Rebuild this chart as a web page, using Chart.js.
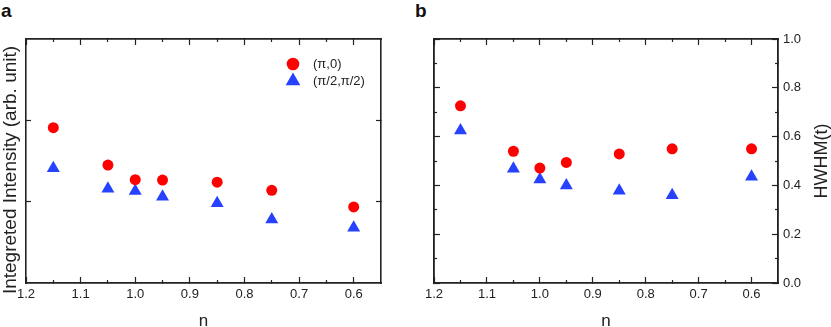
<!DOCTYPE html>
<html>
<head>
<meta charset="utf-8">
<script src="https://cdn.jsdelivr.net/npm/chart.js@4.4.0/dist/chart.umd.min.js"></script>
<style>
  body { margin: 0; background: #fff; width: 831px; height: 327px; position: relative; overflow: hidden;
         font-family: "Liberation Sans", Arial, sans-serif; }
  .panel { position: absolute; top: 0; height: 327px; }
  .tag { position: absolute; top: 1px; font-weight: bold; font-size: 19px; line-height: 1; color: #111; }
</style>
</head>
<body>
<div class="tag" style="left:1px">a</div>
<div class="tag" style="left:415px">b</div>
<div class="panel" style="left:0;width:415px"><canvas id="chartA"></canvas></div>
<div class="panel" style="left:415px;width:416px"><canvas id="chartB"></canvas></div>
<script>
// doping n for every point
const nValues = [1.15, 1.05, 1.0, 0.95, 0.85, 0.75, 0.6];
// panel a: integrated intensity (arb. unit)
const intensityPi0 = [1.91, 1.45, 1.27, 1.265, 1.24, 1.14, 0.935];
const intensityPi2 = [1.41, 1.16, 1.13, 1.06, 0.98, 0.78, 0.68];
// panel b: HWHM (t)
const hwhmPi0 = [0.726, 0.540, 0.471, 0.494, 0.529, 0.550, 0.550];
const hwhmPi2 = [0.625, 0.468, 0.424, 0.400, 0.378, 0.360, 0.435];

const seriesNames = ['(π,0)', '(π/2,π/2)'];
const nTicks = [1.2, 1.1, 1.0, 0.9, 0.8, 0.7, 0.6];
const nMinorTicks = [1.15, 1.05, 0.95, 0.85, 0.75, 0.65];
const intensityTicks = [1, 2];
const hwhmTicks = [0, 0.2, 0.4, 0.6, 0.8, 1.0];
const hwhmMinorTicks = [0.1, 0.3, 0.5, 0.7, 0.9];

const FONT = "'Liberation Sans', Arial, sans-serif";
const INK = '#222';
const RED = 'rgb(255,0,0)';
const BLUE = 'rgb(38,66,255)';

Chart.defaults.font.family = FONT;
Chart.defaults.color = INK;

function pts(ys) {
  return nValues.map((n, i) => ({ x: n, y: ys[i] }));
}

function datasets(a, b) {
  return [
    { label: seriesNames[0], data: pts(a), pointStyle: 'circle', pointRadius: 5.5,
      backgroundColor: RED, borderWidth: 0, legendRadius: 6.3 },
    { label: seriesNames[1], data: pts(b), pointStyle: 'triangle', pointRadius: 7.5,
      backgroundColor: BLUE, borderWidth: 0, legendRadius: 8.5 }
  ];
}

// an axis that only draws its border and inward tick marks
function frameAxis(position, min, max, values, len, extra) {
  const horizontal = position === 'top' || position === 'bottom';
  return Object.assign({
    type: 'linear', position, min, max, weight: 0,
    reverse: horizontal,
    afterBuildTicks: s => { s.ticks = values.map(v => ({ value: v })); },
    afterFit: s => { if (horizontal) s.height = 0; else s.width = 0; },
    grid: { display: true, drawOnChartArea: false, drawTicks: true, tickLength: -len, tickColor: INK, tickWidth: 1.2 },
    border: { display: true, color: INK, width: 1.6 },
    ticks: { display: false },
    title: { display: false }
  }, extra || {});
}

function xMain() {
  return frameAxis('bottom', 0.55, 1.2, nTicks, 6, {
    weight: 1,
    afterFit: s => { s.height = 44; },
    ticks: { display: true, color: INK, font: { size: 13 }, padding: 10, autoSkip: false, maxRotation: 0,
             callback: v => v.toFixed(1) },
    title: { display: true, text: 'n', color: INK, font: { size: 17, lineHeight: 0.7 }, padding: 0 }
  });
}

function xFrame() {
  return {
    xMinor: frameAxis('bottom', 0.55, 1.2, nMinorTicks, 3),
    xTop: frameAxis('top', 0.55, 1.2, nTicks, 6),
    xTopMinor: frameAxis('top', 0.55, 1.2, nMinorTicks, 3)
  };
}

const legendA = {
  id: 'legendA',
  afterDatasetsDraw(chart) {
    const { ctx, chartArea } = chart;
    ctx.save();
    chart.data.datasets.forEach((ds, i) => {
      const y = chartArea.top + 25 + i * 17;
      ctx.fillStyle = ds.backgroundColor;
      Chart.helpers.drawPoint(ctx, { pointStyle: ds.pointStyle, radius: ds.legendRadius, borderWidth: 0, rotation: 0 },
        chartArea.right - 88, y);
      ctx.fillStyle = INK;
      ctx.font = '13px ' + FONT;
      ctx.textAlign = 'left';
      ctx.textBaseline = 'middle';
      ctx.fillText(ds.label, chartArea.right - 68, y);
    });
    ctx.restore();
  }
};

// vertical axis title read bottom-to-top, placed against the y scale box
const sideTitle = {
  id: 'sideTitle',
  afterDraw(chart, args, opts) {
    if (!opts.text) return;
    const s = chart.scales.y;
    const ctx = chart.ctx;
    const x = opts.edge === 'left' ? s.left + opts.inset : s.right - opts.inset;
    ctx.save();
    ctx.translate(x, (s.top + s.bottom) / 2 + (opts.shift || 0));
    ctx.rotate(-Math.PI / 2);
    ctx.font = opts.size + 'px ' + FONT;
    ctx.fillStyle = INK;
    ctx.textAlign = 'center';
    ctx.textBaseline = 'alphabetic';
    ctx.fillText(opts.text, 0, 0);
    ctx.restore();
  }
};

new Chart(document.getElementById('chartA'), {
  type: 'scatter',
  data: { datasets: datasets(intensityPi0, intensityPi2) },
  plugins: [legendA, sideTitle],
  options: {
    animation: false,
    responsive: true,
    maintainAspectRatio: false,
    layout: { padding: { top: 39, right: 34, bottom: 0, left: 0 } },
    plugins: {
      legend: { display: false }, tooltip: { enabled: false },
      sideTitle: { text: 'Integreted Intensity (arb. unit)', edge: 'left', inset: 16, shift: 9, size: 19 }
    },
    scales: Object.assign({
      x: xMain(),
      y: frameAxis('left', 0, 3, intensityTicks, 5, {
        reverse: false, weight: 1,
        afterFit: s => { s.width = 26; }
      }),
      yRight: frameAxis('right', 0, 3, intensityTicks, 5, { reverse: false })
    }, xFrame())
  }
});

new Chart(document.getElementById('chartB'), {
  type: 'scatter',
  data: { datasets: datasets(hwhmPi0, hwhmPi2) },
  plugins: [sideTitle],
  options: {
    animation: false,
    responsive: true,
    maintainAspectRatio: false,
    layout: { padding: { top: 39, right: 0, bottom: 0, left: 8 } },
    plugins: {
      legend: { display: false }, tooltip: { enabled: false },
      sideTitle: { text: 'HWHM(t)', edge: 'right', inset: 4, shift: 0, size: 18 }
    },
    scales: Object.assign({
      x: xMain(),
      y: frameAxis('right', 0, 1, hwhmTicks, 6, {
        reverse: false, weight: 1,
        afterFit: s => { s.width = 53; },
        ticks: { display: true, color: INK, font: { size: 13 }, padding: 11, autoSkip: false,
                 callback: v => v.toFixed(1) }
      }),
      yMinor: frameAxis('right', 0, 1, hwhmMinorTicks, 3, { reverse: false }),
      yLeft: frameAxis('left', 0, 1, hwhmTicks, 6, { reverse: false }),
      yLeftMinor: frameAxis('left', 0, 1, hwhmMinorTicks, 3, { reverse: false })
    }, xFrame())
  }
});
</script>
</body>
</html>
